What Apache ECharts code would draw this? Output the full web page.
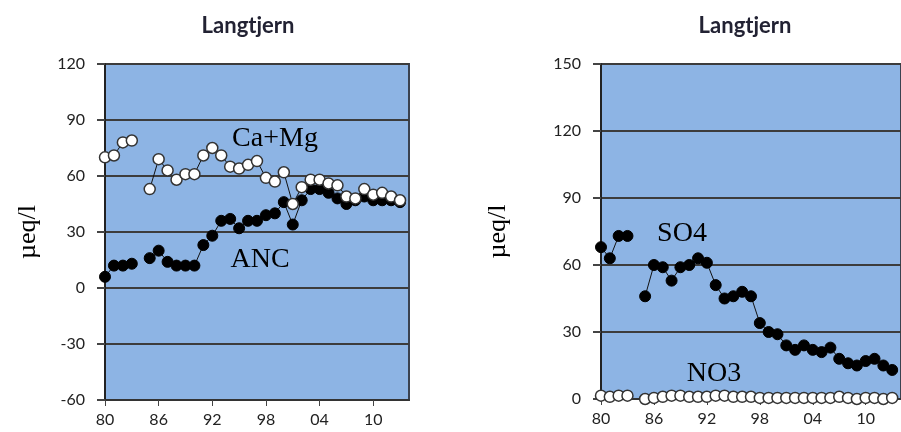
<!DOCTYPE html>
<html>
<head>
<meta charset="utf-8">
<script src="https://cdn.jsdelivr.net/npm/echarts@6/dist/echarts.min.js"></script>
<style>
  html, body { margin: 0; padding: 0; background: #fff; }
  #chart { width: 901px; height: 432px; }
</style>
</head>
<body>
<div id="chart"></div>
<script>
// years 1980..2013, null = no sample (1984)
const years = []
for (let y = 1980; y <= 2013; y++) years.push(y)

const caMg = [70, 71, 78, 79, null, 53, 69, 63, 58, 61, 61, 71, 75, 71, 65, 64, 66, 68, 59, 57,
  62, 45, 54, 58, 58, 56, 55, 49, 48, 53, 50, 51, 49, 47]
const anc = [6, 12, 12, 13, null, 16, 20, 14, 12, 12, 12, 23, 28, 36, 37, 32, 36, 36, 39, 40,
  46, 34, 47, 53, 53, 51, 48, 45, 47, 49, 47, 47, 47, 46]
const so4 = [68, 63, 73, 73, null, 46, 60, 59, 53, 59, 60, 63, 61, 51, 45, 46, 48, 46, 34, 30,
  29, 24, 22, 24, 22, 21, 23, 18, 16, 15, 17, 18, 15, 13]
const no3 = [1.5, 1, 1.5, 1.5, null, 0, 0.5, 1, 1.5, 1.5, 1, 1, 1, 1.5, 1.5, 1, 1, 1, 0.5, 0.5,
  0.5, 0.5, 0.5, 0.5, 0.5, 0.5, 0.5, 1, 0.5, 0, 0.5, 0.5, 0, 0.5]

const leftTicks = [-60, 120, 30]   // min, max, step
const rightTicks = [0, 150, 30]

const pair = arr => years.map((y, i) => [y, arr[i]])

const plotBg = '#8db4e4'
const axisFont = { fontFamily: 'Lato', fontSize: 16, color: '#222' }

function xAxisFor (gridIndex) {
  return {
    type: 'value',
    gridIndex,
    min: 1980,
    max: 2014,
    interval: 6,
    axisLine: { onZero: false, lineStyle: { color: '#333', width: 2 } },
    axisTick: { show: true, length: 6, lineStyle: { color: '#444', width: 1 } },
    splitLine: { show: false },
    axisLabel: Object.assign({ margin: 12, showMaxLabel: false,
      formatter: v => String(v).slice(2) }, axisFont)
  }
}

function yAxisFor (gridIndex, t, gap) {
  return {
    type: 'value',
    gridIndex,
    min: t[0],
    max: t[1],
    interval: t[2],
    name: 'µeq/l',
    nameLocation: 'middle',
    nameGap: gap,
    nameRotate: 90,
    nameTextStyle: { fontFamily: 'Liberation Serif', fontSize: 26, color: '#000' },
    axisLine: { show: true, lineStyle: { color: '#222', width: 2 } },
    axisTick: { show: true, length: 8, lineStyle: { color: '#444', width: 2 } },
    splitLine: { show: true, lineStyle: { color: '#3c3c3c', width: 2 } },
    axisLabel: Object.assign({ margin: 20 }, axisFont)
  }
}

function dotSeries (name, arr, filled, idx) {
  return {
    name,
    type: 'line',
    xAxisIndex: idx,
    yAxisIndex: idx,
    data: pair(arr),
    connectNulls: false,
    symbol: 'circle',
    symbolSize: 11,
    lineStyle: { color: '#111', width: 1 },
    itemStyle: filled
      ? { color: '#000', borderColor: '#000', borderWidth: 1 }
      : { color: '#fff', borderColor: '#333', borderWidth: 1.5 },
    emphasis: { disabled: true },
    animation: false,
    z: filled ? 3 : 4
  }
}

function seriesText (text, x, y) {
  return {
    type: 'text',
    x, y,
    z: 100,
    style: {
      text,
      font: '28px "Liberation Serif"',
      fill: '#000',
      align: 'center',
      verticalAlign: 'middle'
    }
  }
}

const titleStyle = { fontFamily: 'Lato', fontWeight: 'bold', fontSize: 22, color: '#222233' }

const myChart = echarts.init(document.getElementById('chart'))
const option = {
  animation: false,
  backgroundColor: '#fff',
  title: [
    { text: 'Langtjern', left: 243, top: 10, textAlign: 'center', textStyle: titleStyle },
    { text: 'Langtjern', left: 740, top: 10, textAlign: 'center', textStyle: titleStyle }
  ],
  grid: [
    { left: 105, top: 64, width: 304, height: 336, show: true, backgroundColor: plotBg,
      borderColor: '#3a4250', borderWidth: 2 },
    { left: 601, top: 64, width: 304, height: 335, show: true, backgroundColor: plotBg,
      borderColor: '#3a4250', borderWidth: 2 }
  ],
  xAxis: [xAxisFor(0), xAxisFor(1)],
  yAxis: [yAxisFor(0, leftTicks, 64), yAxisFor(1, rightTicks, 90)],
  series: [
    dotSeries('ANC', anc, true, 0),
    dotSeries('Ca+Mg', caMg, false, 0),
    dotSeries('SO4', so4, true, 1),
    dotSeries('NO3', no3, false, 1)
  ],
  graphic: [
    seriesText('Ca+Mg', 275, 139),
    seriesText('ANC', 260, 260),
    seriesText('SO4', 682, 234),
    seriesText('NO3', 714, 374)
  ]
}
myChart.setOption(option)
</script>
</body>
</html>
